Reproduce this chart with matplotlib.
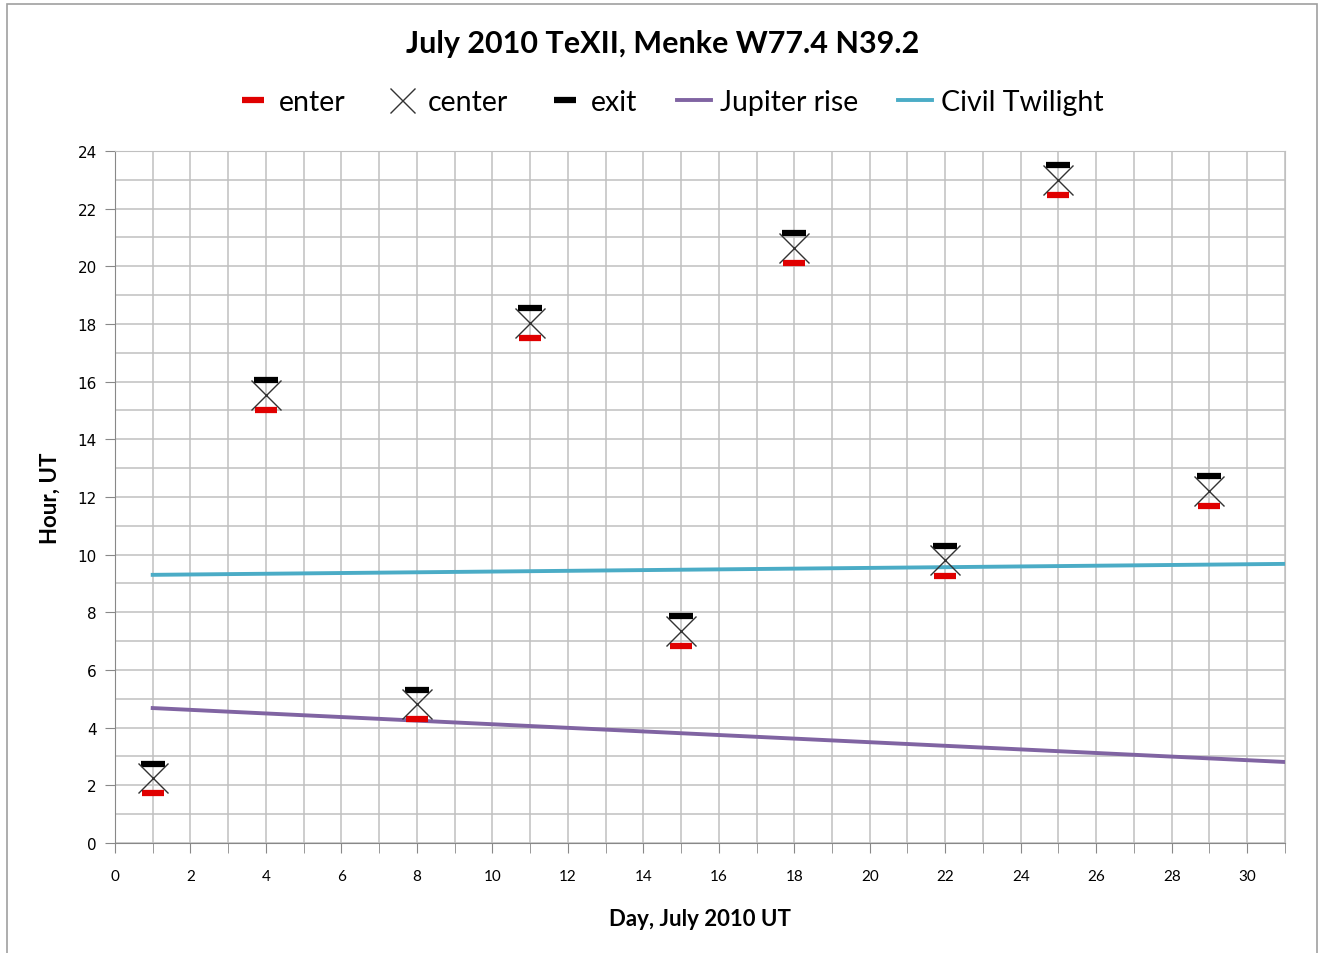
import matplotlib.pyplot as plt
from matplotlib.patches import Rectangle
from matplotlib.lines import Line2D

plt.rcParams['font.family'] = ['Lato', 'DejaVu Sans']

days = [1, 4, 8, 11, 15, 18, 22, 25, 29]
enter = [1.73, 15.02, 4.30, 17.52, 6.83, 20.12, 9.26, 22.48, 11.69]
center = [2.27, 15.55, 4.82, 18.05, 7.35, 20.65, 9.80, 23.00, 12.22]
exit_ = [2.74, 16.06, 5.31, 18.56, 7.87, 21.16, 10.30, 23.52, 12.73]

jup_days = [1, 31]
jup_rise = [4.68, 2.81]
tw_days = [1, 31]
twilight = [9.30, 9.68]

fig = plt.figure(figsize=(13.26, 9.54), dpi=100)
ax = fig.add_axes([0.0867, 0.1153, 0.8823, 0.7254])

# outer chart border
fig.patches.append(Rectangle((0.005, -0.01), 0.988, 1.005, transform=fig.transFigure,
                             fill=False, edgecolor='#a0a0a0', lw=1.2))

ax.plot(jup_days, jup_rise, color='#8064A2', lw=2.8, label='Jupiter rise', zorder=3)
ax.plot(tw_days, twilight, color='#4BACC6', lw=2.8, label='Civil Twilight', zorder=3)
ax.plot(days, enter, ls='none', marker='_', ms=16, mew=4.5, color='#e00000', zorder=4)
ax.plot(days, exit_, ls='none', marker='_', ms=17, mew=4.5, color='black', zorder=4)
ax.plot(days, center, ls='none', marker='x', ms=22, mew=1.0, color='#333333', zorder=4)

ax.set_xlim(0, 31)
ax.set_ylim(0, 24)
ax.set_xticks(range(0, 31, 2))
ax.set_yticks(range(0, 25, 2))
ax.set_xticks(range(0, 32), minor=True)
ax.set_yticks(range(0, 25), minor=True)
ax.grid(True, which='both', color='#c0c0c0', lw=1.1)
ax.set_axisbelow(True)
for s in ax.spines.values():
    s.set_color('#c0c0c0')
ax.spines['left'].set_color('#888888')
ax.spines['bottom'].set_color('#888888')
ax.tick_params(axis='x', which='both', direction='out', length=7, color='#888888',
               labelsize=11, pad=12)
ax.tick_params(axis='y', which='major', direction='out', length=7, color='#888888',
               labelsize=11, pad=6)
ax.tick_params(axis='y', which='minor', length=0)
for lab in ax.get_yticklabels():
    lab.set_family('DejaVu Sans')

ax.set_xlabel('Day, July 2010 UT', fontsize=16, fontweight='bold', labelpad=18)
ax.set_ylabel('Hour, UT', fontsize=16, fontweight='bold', labelpad=12)

fig.text(0.5, 0.954, 'July 2010 TeXII, Menke W77.4 N39.2', ha='center', va='center',
         fontsize=22, fontweight='bold')

handles = [
    Line2D([], [], ls='none', marker='_', ms=16, mew=4.5, color='#e00000'),
    Line2D([], [], ls='none', marker='x', ms=18, mew=1.0, color='#333333'),
    Line2D([], [], ls='none', marker='_', ms=16, mew=4.5, color='black'),
    Line2D([], [], color='#8064A2', lw=2.8),
    Line2D([], [], color='#4BACC6', lw=2.8),
]
labels = ['enter', 'center', 'exit', 'Jupiter rise', 'Civil Twilight']
fig.legend(handles, labels, loc='center', bbox_to_anchor=(0.505, 0.892), ncol=5,
           frameon=False, fontsize=20.5, handlelength=1.2, handletextpad=0.3,
           columnspacing=1.4)

fig.savefig('out.png', dpi=100)
